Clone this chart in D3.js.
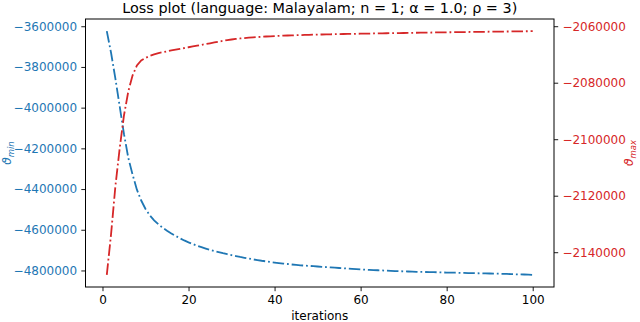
<!DOCTYPE html>
<html>
<head>
<meta charset="utf-8">
<script src="https://cdn.jsdelivr.net/npm/d3@7"></script>
<style>
  body { margin: 0; background: #fff; }
  svg { display: block; font-family: "DejaVu Sans", sans-serif; }
</style>
</head>
<body>
<svg id="chart" width="640" height="322"></svg>
<script>
// iteraciones 1..100
var iterations = d3.range(1, 101);

// theta_min (eje izquierdo, azul)
var thetaMin = [
  -3624300, -3731400, -3857900, -3994100, -4130400, -4247200, -4329900, -4402900, -4456400, -4497800,
  -4529400, -4553700, -4573200, -4590200, -4604800, -4618000, -4630100, -4641800, -4652500, -4662200,
  -4670500, -4678300, -4685600, -4692400, -4698700, -4704600, -4709900, -4715300, -4720200, -4725000,
  -4729400, -4733800, -4737700, -4741600, -4745500, -4748900, -4752300, -4755200, -4758100, -4761000,
  -4763500, -4765900, -4768300, -4770800, -4772700, -4774700, -4776100, -4777600, -4779000, -4780500,
  -4782000, -4783400, -4784900, -4786300, -4787800, -4789300, -4790700, -4792200, -4793600, -4795100,
  -4796100, -4797000, -4798000, -4799000, -4800000, -4800900, -4801900, -4802900, -4803600, -4804300,
  -4805100, -4805800, -4806500, -4807000, -4807500, -4808000, -4808500, -4809000, -4809700, -4810200,
  -4810700, -4811100, -4811600, -4812100, -4812600, -4813100, -4813600, -4814100, -4814500, -4815000,
  -4815500, -4816000, -4816500, -4817200, -4817900, -4818700, -4819400, -4819900, -4820700, -4821400
];

// theta_max (eje derecho, rojo)
var thetaMax = [
  -2148000, -2133530, -2116590, -2103170, -2091520, -2083050, -2077400, -2073870, -2072110, -2071230,
  -2070520, -2069990, -2069530, -2069210, -2068900, -2068580, -2068300, -2068010, -2067730, -2067450,
  -2067170, -2066880, -2066600, -2066320, -2066040, -2065750, -2065470, -2065190, -2064910, -2064700,
  -2064520, -2064340, -2064200, -2064060, -2063950, -2063850, -2063740, -2063640, -2063570, -2063500,
  -2063420, -2063350, -2063280, -2063250, -2063180, -2063140, -2063070, -2063040, -2063000, -2062970,
  -2062930, -2062900, -2062860, -2062820, -2062790, -2062750, -2062740, -2062720, -2062680, -2062650,
  -2062620, -2062600, -2062570, -2062550, -2062520, -2062500, -2062470, -2062450, -2062420, -2062400,
  -2062370, -2062350, -2062320, -2062300, -2062270, -2062250, -2062220, -2062200, -2062170, -2062150,
  -2062130, -2062110, -2062090, -2062070, -2062050, -2062030, -2062010, -2061990, -2061970, -2061950,
  -2061930, -2061920, -2061900, -2061880, -2061860, -2061840, -2061820, -2061800, -2061780, -2061760
];

var xTicks = [0, 20, 40, 60, 80, 100];
var minTicks = [-4800000, -4600000, -4400000, -4200000, -4000000, -3800000, -3600000];
var maxTicks = [-2140000, -2120000, -2100000, -2080000, -2060000];

var titleText = "Loss plot (language: Malayalam; n = 1; \u03b1 = 1.0; \u03c1 = 3)";
var xLabel = "iterations";

var blue = "#1f77b4", red = "#d62728";

var width = 640, height = 322;
var margin = { top: 19, right: 86, bottom: 35, left: 85.5 };
var plotW = width - margin.left - margin.right;
var plotH = height - margin.top - margin.bottom;

// margen de 5% como matplotlib
function padded(ext) {
  var d = (ext[1] - ext[0]) * 0.05;
  return [ext[0] - d, ext[1] + d];
}

var svg = d3.select("#chart");
var g = svg.append("g")
  .attr("transform", "translate(" + margin.left + "," + margin.top + ")");

var xScale = d3.scaleLinear()
  .domain(padded(d3.extent(iterations)))
  .range([0, plotW]);
var yMin = d3.scaleLinear()
  .domain(padded(d3.extent(thetaMin)))
  .range([plotH, 0]);
var yMax = d3.scaleLinear()
  .domain(padded(d3.extent(thetaMax)))
  .range([plotH, 0]);

var fmt = d3.format("d");

function styleAxis(sel, color) {
  sel.select(".domain").remove();
  sel.selectAll(".tick line").attr("stroke", "#000").attr("stroke-width", 0.9);
  sel.selectAll(".tick text")
    .attr("fill", color)
    .style("font-size", "12px")
    .style("font-family", "DejaVu Sans, sans-serif");
}

g.append("g")
  .attr("transform", "translate(0," + plotH + ")")
  .call(d3.axisBottom(xScale).tickValues(xTicks).tickSize(4.2).tickPadding(4.2).tickSizeOuter(0).tickFormat(fmt))
  .call(styleAxis, "#000");

g.append("g")
  .call(d3.axisLeft(yMin).tickValues(minTicks).tickSize(4.2).tickPadding(4.2).tickSizeOuter(0).tickFormat(fmt))
  .call(styleAxis, blue);

g.append("g")
  .attr("transform", "translate(" + plotW + ",0)")
  .call(d3.axisRight(yMax).tickValues(maxTicks).tickSize(4.2).tickPadding(4.2).tickSizeOuter(0).tickFormat(fmt))
  .call(styleAxis, red);

var clip = g.append("clipPath").attr("id", "clip")
  .append("rect").attr("width", plotW).attr("height", plotH);

var lineMin = d3.line()
  .x(function (d, i) { return xScale(iterations[i]); })
  .y(function (d) { return yMin(d); });
var lineMax = d3.line()
  .x(function (d, i) { return xScale(iterations[i]); })
  .y(function (d) { return yMax(d); });

g.append("path")
  .datum(thetaMin)
  .attr("d", lineMin)
  .attr("fill", "none")
  .attr("stroke", blue)
  .attr("stroke-width", 1.8)
  .attr("stroke-dasharray", "11.5,2.9,1.8,2.9")
  .attr("clip-path", "url(#clip)");

g.append("path")
  .datum(thetaMax)
  .attr("d", lineMax)
  .attr("fill", "none")
  .attr("stroke", red)
  .attr("stroke-width", 1.8)
  .attr("stroke-dasharray", "11.5,2.9,1.8,2.9")
  .attr("clip-path", "url(#clip)");

// marco
g.append("rect")
  .attr("width", plotW)
  .attr("height", plotH)
  .attr("fill", "none")
  .attr("stroke", "#000")
  .attr("stroke-width", 1);

svg.append("text")
  .attr("x", margin.left + plotW / 2)
  .attr("y", 13)
  .attr("text-anchor", "middle")
  .style("font-size", "14.4px")
  .text(titleText);

svg.append("text")
  .attr("x", margin.left + plotW / 2)
  .attr("y", 320)
  .attr("text-anchor", "middle")
  .style("font-size", "12px")
  .text(xLabel);

// etiquetas de los ejes y (theta con subindice)
function thetaLabel(x, sub, color) {
  var t = svg.append("text")
    .attr("transform", "translate(" + x + "," + (margin.top + plotH / 2) + ") rotate(-90)")
    .attr("text-anchor", "middle")
    .attr("fill", color)
    .style("font-size", "12px")
    .style("font-style", "italic");
  t.append("tspan").text("\u03d1");
  t.append("tspan")
    .attr("dy", 3)
    .style("font-size", "8.5px")
    .text(sub);
}
thetaLabel(11, "min", blue);
thetaLabel(633, "max", red);
</script>
</body>
</html>
